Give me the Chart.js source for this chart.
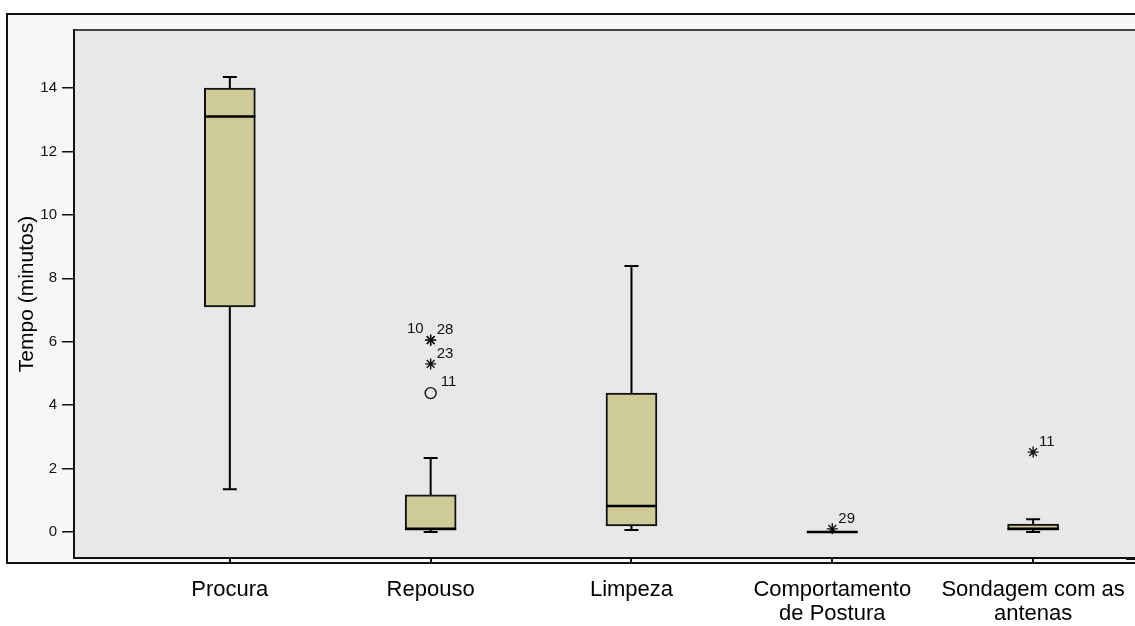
<!DOCTYPE html>
<html>
<head>
<meta charset="utf-8">
<script src="https://cdn.jsdelivr.net/npm/chart.js@4.4.0/dist/chart.umd.min.js"></script>
<style>
  html, body { margin: 0; padding: 0; background: #fff; }
  #wrap { width: 1135px; height: 626px; }
</style>
</head>
<body>
<div id="wrap"><canvas id="boxChart"></canvas></div>
<script>
// dados
const categorias = [["Procura"], ["Repouso"], ["Limpeza"], ["Comportamento", "de Postura"], ["Sondagem com as", "antenas"]];
const posicoes = [0, 1, 2, 3, 4];
const minimos = [1.35, 0.0, 0.06, 0, 0.0];
const q1 = [7.1, 0.06, 0.19, 0, 0.06];
const medianas = [13.1, 0.1, 0.82, 0, 0.1];
const q3 = [14.0, 1.17, 4.38, 0, 0.25];
const maximos = [14.35, 2.33, 8.39, 0, 0.4];

const extremosX = [1, 1, 1, 3, 4];
const extremosY = [6.05, 6.05, 5.3, 0.1, 2.52];
const extremosRotulo = ["10", "28", "23", "29", "11"];
const extremosLado = ["esq", "dir", "dir", "dir", "dir"];

const outliersX = [1];
const outliersY = [4.38];
const outliersRotulo = ["11"];

const yTicks = [0, 2, 4, 6, 8, 10, 12, 14];

const corCaixa = "#cfcb99";

const fundoPlugin = {
  id: "fundo",
  beforeDraw(chart) {
    const ctx = chart.ctx, a = chart.chartArea;
    ctx.save();
    ctx.fillStyle = "#ffffff";
    ctx.fillRect(0, 0, chart.width, chart.height);
    ctx.fillStyle = "#f7f7f7";
    ctx.fillRect(7, 14, chart.width, 549);
    ctx.strokeStyle = "#111";
    ctx.lineWidth = 2;
    ctx.strokeRect(7, 14, chart.width + 20, 549);
    ctx.fillStyle = "#e8e8e8";
    ctx.fillRect(a.left, a.top, chart.width - a.left, a.bottom - a.top);
    ctx.strokeStyle = "#444";
    ctx.beginPath();
    ctx.moveTo(a.left, a.top);
    ctx.lineTo(chart.width, a.top);
    ctx.stroke();
    ctx.restore();
  },
  afterDraw(chart) {
    // o eixo continua ate a borda da imagem
    const ctx = chart.ctx, a = chart.chartArea;
    ctx.save();
    ctx.strokeStyle = "#111";
    ctx.lineWidth = 3;
    ctx.beginPath();
    ctx.moveTo(a.right - 2, a.bottom + 0.5);
    ctx.lineTo(chart.width, a.bottom + 0.5);
    ctx.stroke();
    ctx.restore();
  }
};

const bigodesPlugin = {
  id: "bigodes",
  afterDatasetsDraw(chart) {
    const ctx = chart.ctx, xs = chart.scales.x, ys = chart.scales.y;
    const meta = chart.getDatasetMeta(0);
    ctx.save();
    ctx.strokeStyle = "#000";
    posicoes.forEach((p, i) => {
      const cx = xs.getPixelForValue(p);
      const half = meta.data[i].width / 2;
      const yMax = ys.getPixelForValue(maximos[i]);
      const yMin = ys.getPixelForValue(minimos[i]);
      const yQ1 = ys.getPixelForValue(q1[i]);
      const yQ3 = ys.getPixelForValue(q3[i]);
      ctx.lineWidth = 2;
      ctx.beginPath();
      if (maximos[i] > q3[i]) {
        ctx.moveTo(cx, yQ3); ctx.lineTo(cx, yMax);
        ctx.moveTo(cx - 7, yMax); ctx.lineTo(cx + 7, yMax);
      }
      if (minimos[i] < q1[i]) {
        ctx.moveTo(cx, yQ1); ctx.lineTo(cx, yMin);
        ctx.moveTo(cx - 7, yMin); ctx.lineTo(cx + 7, yMin);
      }
      ctx.stroke();
      const yMed = ys.getPixelForValue(medianas[i]);
      ctx.lineWidth = 2.5;
      ctx.beginPath();
      ctx.moveTo(cx - half, yMed);
      ctx.lineTo(cx + half, yMed);
      ctx.stroke();
    });

    // rotulos dos casos
    ctx.fillStyle = "#111";
    ctx.font = "15px 'Liberation Sans', Arial, sans-serif";
    ctx.textBaseline = "middle";
    extremosX.forEach((v, i) => {
      const px = xs.getPixelForValue(v);
      const py = ys.getPixelForValue(extremosY[i]);
      if (extremosLado[i] === "esq") {
        ctx.textAlign = "right";
        ctx.fillText(extremosRotulo[i], px - 7, py - 11);
      } else {
        ctx.textAlign = "left";
        ctx.fillText(extremosRotulo[i], px + 6, py - 10);
      }
    });
    outliersX.forEach((v, i) => {
      const px = xs.getPixelForValue(v);
      const py = ys.getPixelForValue(outliersY[i]);
      ctx.textAlign = "left";
      ctx.fillText(outliersRotulo[i], px + 10, py - 11);
    });
    ctx.restore();
  }
};

const ctx = document.getElementById("boxChart").getContext("2d");
new Chart(ctx, {
  type: "bar",
  data: {
    datasets: [
      {
        type: "bar",
        label: "Caixas",
        data: posicoes.map((p, i) => ({ x: p, y: [q1[i], q3[i]] })),
        backgroundColor: corCaixa,
        borderColor: "#111",
        borderWidth: 2,
        borderSkipped: false,
        barThickness: 51
      },
      {
        type: "scatter",
        label: "Extremos",
        data: extremosX.map((v, i) => ({ x: v, y: extremosY[i] })),
        pointStyle: "star",
        radius: 5.5,
        borderColor: "#111",
        borderWidth: 1.4,
        backgroundColor: "#111"
      },
      {
        type: "scatter",
        label: "Outliers",
        data: outliersX.map((v, i) => ({ x: v, y: outliersY[i] })),
        pointStyle: "circle",
        radius: 5.5,
        borderColor: "#111",
        borderWidth: 1.4,
        backgroundColor: "rgba(0,0,0,0)"
      }
    ]
  },
  options: {
    responsive: true,
    maintainAspectRatio: false,
    animation: false,
    layout: { padding: { top: 30, left: 0, right: 0, bottom: 0 } },
    plugins: {
      legend: { display: false },
      tooltip: { enabled: false }
    },
    scales: {
      x: {
        type: "linear",
        offset: false,
        min: -0.776,
        max: 4.473,
        afterBuildTicks: (scale) => { scale.ticks = posicoes.map(v => ({ value: v })); },
        afterFit: (scale) => { scale.height = 68; scale.paddingLeft = 0; scale.paddingRight = 0; },
        ticks: {
          autoSkip: false,
          maxRotation: 0,
          minRotation: 0,
          padding: 15,
          color: "#000",
          font: { family: "'Liberation Sans', Arial, sans-serif", size: 22, lineHeight: 1.1 },
          callback: (v) => categorias[v]
        },
        grid: { offset: false, drawOnChartArea: false, drawTicks: true, tickLength: 5, color: "#111", lineWidth: 2 },
        border: { display: true, color: "#111", width: 2 }
      },
      y: {
        min: -0.82,
        max: 15.83,
        afterBuildTicks: (scale) => { scale.ticks = yTicks.map(v => ({ value: v })); },
        afterFit: (scale) => { scale.width = 74; scale.paddingTop = 0; scale.paddingBottom = 0; },
        ticks: {
          padding: 5,
          color: "#111",
          font: { family: "'Liberation Sans', Arial, sans-serif", size: 15 }
        },
        grid: { drawOnChartArea: false, drawTicks: true, tickLength: 12, color: "#111", lineWidth: 1.5 },
        border: { display: true, color: "#111", width: 2 },
        title: {
          display: true,
          text: "Tempo (minutos)",
          color: "#000",
          padding: { top: 15, bottom: 0 },
          font: { family: "'Liberation Sans', Arial, sans-serif", size: 21 }
        }
      }
    }
  },
  plugins: [fundoPlugin, bigodesPlugin]
});
</script>
</body>
</html>
